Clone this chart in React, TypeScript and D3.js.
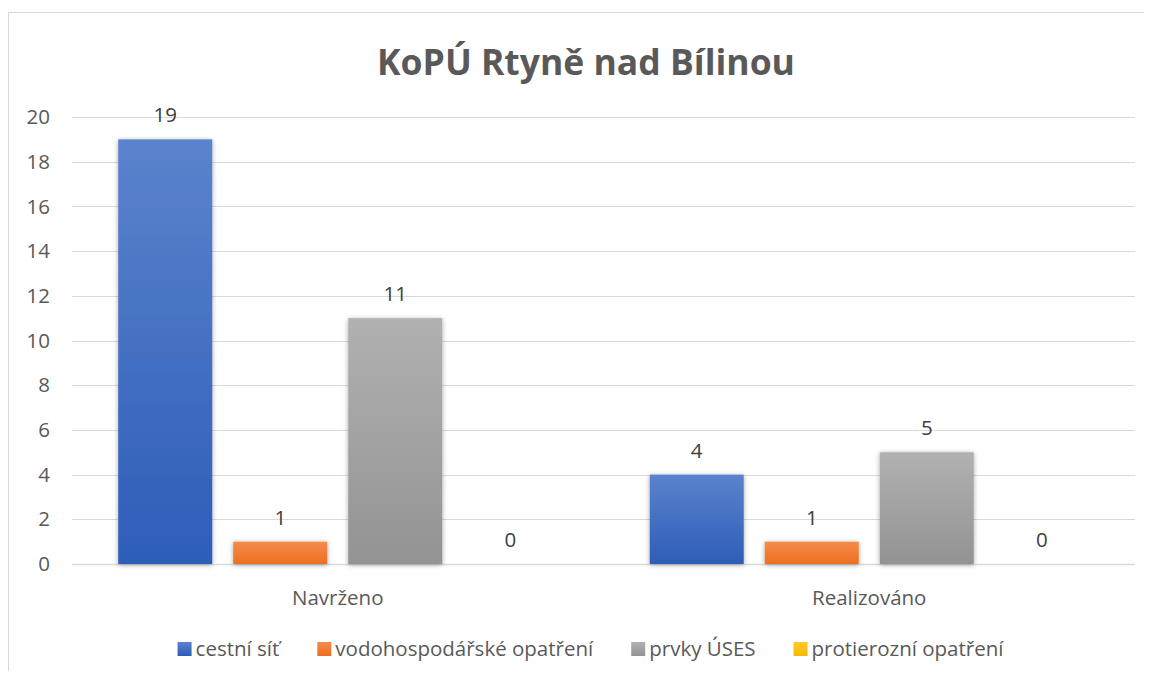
import React, { useEffect, useRef } from "react"
import * as d3 from "d3"

const categories = ["Navrženo", "Realizováno"]
const seriesNames = ["cestní síť", "vodohospodářské opatření", "prvky ÚSES", "protierozní opatření"]
const cestniSit = [19, 4]
const vodohospodarske = [1, 1]
const prvkyUses = [11, 5]
const protierozni = [0, 0]
const yTicks = [0, 2, 4, 6, 8, 10, 12, 14, 16, 18, 20]

const seriesValues = [cestniSit, vodohospodarske, prvkyUses, protierozni]
const gradients = [
  ["#5b83cd", "#2d5db8"],
  ["#f58b4c", "#ec6f1f"],
  ["#b1b1b1", "#939393"],
  ["#ffc82a", "#f5b800"],
]

const W = 1152
const H = 679
const FONT = "'Open Sans', 'Liberation Sans', sans-serif"
const FS = 20.5

export default function App() {
  const ref = useRef<SVGSVGElement>(null)

  useEffect(() => {
    const svg = d3.select(ref.current)
    svg.selectAll("*").remove()

    const left = 72, right = 1135, top = 117, bottom = 564

    const defs = svg.append("defs")
    gradients.forEach((g, i) => {
      const lg = defs.append("linearGradient")
        .attr("id", "grad" + i)
        .attr("x1", 0).attr("y1", 0).attr("x2", 0).attr("y2", 1)
      lg.append("stop").attr("offset", "0%").attr("stop-color", g[0])
      lg.append("stop").attr("offset", "100%").attr("stop-color", g[1])
    })
    const f = defs.append("filter").attr("id", "shadow")
      .attr("x", "-20%").attr("y", "-20%").attr("width", "140%").attr("height", "140%")
    f.append("feDropShadow")
      .attr("dx", 0).attr("dy", 1).attr("stdDeviation", 2.5)
      .attr("flood-color", "#000").attr("flood-opacity", 0.35)

    // chart border
    svg.append("rect")
      .attr("x", 8.5).attr("y", 12.5).attr("width", W).attr("height", H)
      .attr("fill", "#fff").attr("stroke", "#d9d9d9")

    svg.append("text")
      .attr("x", 586).attr("y", 75)
      .attr("text-anchor", "middle")
      .attr("font-family", FONT).attr("font-weight", "bold")
      .attr("font-size", 35.5).attr("fill", "#595959")
      .text("KoPÚ Rtyně nad Bílinou")

    const y = d3.scaleLinear().domain([0, 20]).range([bottom, top])
    const x0 = d3.scaleBand().domain(categories).range([left, right])
    const x1 = d3.scaleBand<number>()
      .domain(d3.range(seriesNames.length))
      .range([0, x0.bandwidth()])
      .paddingInner(0.1826)
      .paddingOuter(0.402)

    // gridlines
    svg.append("g").selectAll("line")
      .data(yTicks)
      .join("line")
      .attr("x1", left).attr("x2", right)
      .attr("y1", d => Math.round(y(d)) + 0.5).attr("y2", d => Math.round(y(d)) + 0.5)
      .attr("stroke", "#d9d9d9").attr("stroke-width", d => (d === 0 ? 1.5 : 1))

    svg.append("g").selectAll("text")
      .data(yTicks)
      .join("text")
      .attr("x", 50).attr("y", d => y(d))
      .attr("dy", "0.35em")
      .attr("text-anchor", "end")
      .attr("font-family", FONT).attr("font-size", FS).attr("fill", "#595959")
      .text(d => d)

    const groups = svg.append("g").selectAll("g")
      .data(categories)
      .join("g")
      .attr("transform", d => `translate(${x0(d)},0)`)

    groups.each(function (cat, ci) {
      const g = d3.select(this)
      const items = seriesValues.map((vals, si) => ({ si, v: vals[ci] }))
      g.selectAll("rect")
        .data(items.filter(d => d.v > 0))
        .join("rect")
        .attr("x", d => x1(d.si)!)
        .attr("width", x1.bandwidth())
        .attr("y", d => y(d.v))
        .attr("height", d => y(0) - y(d.v))
        .attr("fill", d => `url(#grad${d.si})`)
        .attr("filter", "url(#shadow)")
      g.selectAll("text")
        .data(items)
        .join("text")
        .attr("x", d => x1(d.si)! + x1.bandwidth() / 2)
        .attr("y", d => y(d.v) - 17)
        .attr("text-anchor", "middle")
        .attr("font-family", FONT).attr("font-size", FS).attr("fill", "#404040")
        .text(d => d.v)
    })

    svg.append("g").selectAll("text")
      .data(categories)
      .join("text")
      .attr("x", d => x0(d)! + x0.bandwidth() / 2)
      .attr("y", 605)
      .attr("text-anchor", "middle")
      .attr("font-family", FONT).attr("font-size", FS).attr("fill", "#595959")
      .text(d => d)

    // legend
    const legend = svg.append("g")
    const sq = 14, gapText = 4, gapItem = 38
    const items = seriesNames.map((name, i) => {
      const it = legend.append("g")
      it.append("rect").attr("width", sq).attr("height", sq)
        .attr("y", -sq / 2).attr("fill", `url(#grad${i})`)
      const t = it.append("text")
        .attr("x", sq + gapText).attr("dy", "0.35em")
        .attr("font-family", FONT).attr("font-size", FS).attr("fill", "#595959")
        .text(name)
      const w = sq + gapText + (t.node() as SVGTextElement).getComputedTextLength()
      return { it, w }
    })
    const total = d3.sum(items, d => d.w) + gapItem * (items.length - 1)
    let cx = 590.5 - total / 2
    items.forEach(d => {
      d.it.attr("transform", `translate(${cx},649)`)
      cx += d.w + gapItem
    })
  }, [])

  return <svg ref={ref} width={W} height={H} style={{ display: "block", margin: -8 }} />
}
